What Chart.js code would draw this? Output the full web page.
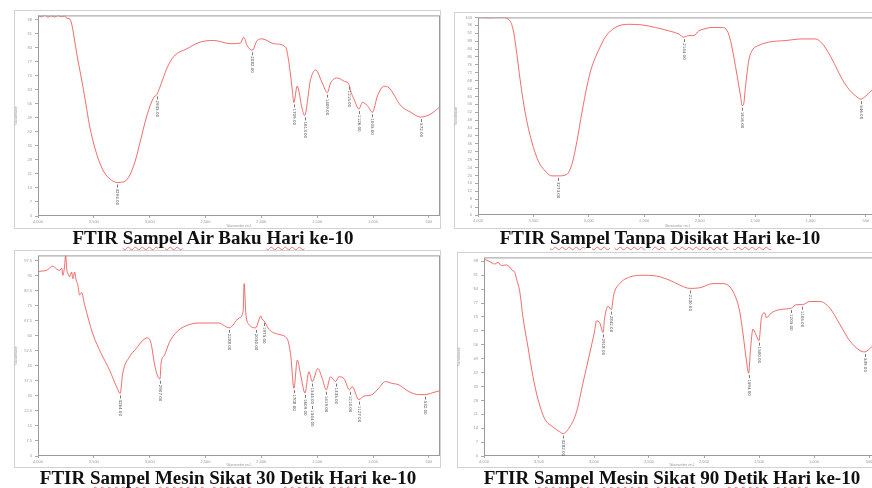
<!DOCTYPE html>
<html>
<head>
<meta charset="utf-8">
<script src="https://cdn.jsdelivr.net/npm/chart.js@4.4.1/dist/chart.umd.min.js"></script>
<style>
  html, body { margin: 0; padding: 0; background: #fff; }
  body { width: 872px; height: 488px; position: relative; overflow: hidden; }
  .box { position: absolute; }
  .title {
    position: absolute; font-family: "Liberation Serif", "Times New Roman", serif;
    font-weight: bold; font-size: 19px; line-height: 22px; color: #111; white-space: nowrap;
    transform: translateX(-50%);
  }
  .u { text-decoration: underline wavy rgba(230, 70, 70, 0.7); text-decoration-thickness: 1px; text-underline-offset: 2px; }
</style>
</head>
<body>
<div class="box" id="b1" style="left:14px;top:10px;width:427px;height:219px"><canvas id="c1"></canvas></div>
<div class="box" id="b2" style="left:454px;top:12px;width:424px;height:217px"><canvas id="c2"></canvas></div>
<div class="box" id="b3" style="left:14px;top:250px;width:427px;height:218px"><canvas id="c3"></canvas></div>
<div class="box" id="b4" style="left:457px;top:252px;width:424px;height:216px"><canvas id="c4"></canvas></div>

<div class="title" style="left:213px;top:227px">FTIR <span class="u">Sampel</span> Air Baku <span class="u">Hari</span> ke-10</div>
<div class="title" style="left:660px;top:227px">FTIR <span class="u">Sampel</span> <span class="u">Tanpa</span> <span class="u">Disikat</span> <span class="u">Hari</span> ke-10</div>
<div class="title" style="left:228px;top:467px">FTIR <span class="u">Sampel</span> <span class="u">Mesin</span> <span class="u">Sikat</span> 30 <span class="u">Detik</span> <span class="u">Hari</span> ke-10</div>
<div class="title" style="left:672px;top:467px">FTIR <span class="u">Sampel</span> <span class="u">Mesin</span> <span class="u">Sikat</span> 90 <span class="u">Detik</span> <span class="u">Hari</span> ke-10</div>

<script>
// x tick labels (wavenumber, cm-1)
const xTicks = [4000, 3500, 3000, 2500, 2000, 1500, 1000, 500];

// Air Baku
const wn1 = [4000, 3970, 3940, 3910, 3880, 3850, 3820, 3790, 3760, 3743, 3720, 3698, 3653, 3593, 3533, 3473, 3414, 3354, 3294, 3234, 3190, 3130, 3085, 3025, 2965, 2935, 2905, 2845, 2786, 2666, 2546, 2427, 2277, 2187, 2158, 2127, 2082, 2037, 1993, 1888, 1783, 1754, 1723, 1709, 1679, 1634, 1613, 1559, 1514, 1454, 1409, 1380, 1320, 1260, 1215, 1200, 1170, 1126, 1095, 1050, 1005, 960, 901, 856, 751, 662, 572, 482, 400];
const t1 = [100, 99.3, 100, 99.1, 99.8, 99.2, 99.9, 99.3, 99.7, 98.6, 98.4, 95.6, 81, 63, 43.6, 30.6, 22.4, 18.4, 16.7, 17, 19.2, 27.3, 37, 50, 59, 60.6, 64.7, 73.7, 79.4, 83.4, 86.7, 87.5, 85.9, 86.2, 89.1, 85, 82.6, 87.5, 88.3, 85.9, 84.2, 76.9, 63, 56.6, 64.7, 53.3, 50.1, 68, 72.8, 66.3, 61.5, 66.3, 68.8, 67.2, 65.5, 62.3, 58.2, 53.3, 56.6, 55, 51.7, 59.9, 64.7, 63.9, 55, 51.7, 49.3, 50.9, 54.5];
const peaks1 = [3294, 2935, 2082, 1709, 1613, 1409, 1215, 1126, 1005, 572];

// Tanpa Disikat
const wn2 = [4000, 3900, 3786, 3711, 3681, 3650, 3620, 3575, 3515, 3455, 3394, 3334, 3274, 3198, 3153, 3108, 3062, 3017, 2972, 2912, 2852, 2761, 2641, 2520, 2400, 2279, 2189, 2144, 2098, 2053, 2008, 1963, 1887, 1797, 1751, 1722, 1692, 1661, 1631, 1616, 1601, 1586, 1556, 1526, 1466, 1375, 1224, 1073, 953, 892, 833, 772, 712, 652, 591, 546, 501, 456, 400];
const t2 = [100, 99.8, 100, 98.2, 93.2, 81.7, 68.5, 52, 37.1, 27.2, 22.3, 19.8, 19.8, 20.6, 25.6, 37.1, 52, 65.2, 75.1, 83.3, 90, 94.9, 96.5, 96.2, 94.9, 93.2, 91.6, 90, 90.8, 90.8, 93.2, 94.1, 94.9, 94.9, 93.2, 88.3, 80, 70.1, 60.2, 55.3, 56.9, 65.2, 78.4, 83.3, 85.8, 87.5, 88.3, 89.1, 89.1, 86.6, 81.7, 75.1, 68.5, 63.5, 60.2, 58.6, 60.2, 62.7, 65];
const peaks2 = [3274, 2144, 1616, 546];

// Mesin Sikat 30 Detik
const wn3 = [4000, 3967, 3925, 3896, 3869, 3851, 3833, 3806, 3788, 3777, 3762, 3753, 3741, 3730, 3717, 3699, 3687, 3672, 3659, 3643, 3628, 3610, 3583, 3509, 3434, 3360, 3286, 3264, 3241, 3181, 3121, 3062, 3018, 2987, 2958, 2928, 2907, 2898, 2868, 2824, 2764, 2675, 2556, 2437, 2377, 2348, 2288, 2199, 2163, 2154, 2139, 2110, 2050, 2005, 1993, 1975, 1931, 1842, 1767, 1737, 1708, 1678, 1648, 1609, 1574, 1544, 1494, 1455, 1419, 1380, 1335, 1306, 1261, 1210, 1187, 1127, 1083, 1008, 949, 889, 830, 770, 681, 592, 532, 473, 400];
const t3 = [91.7, 92.2, 92.5, 93.7, 94.6, 94.1, 93.2, 92.5, 93.7, 90.1, 94.6, 100, 92.5, 90.7, 89.3, 91.7, 88.4, 91.7, 87.8, 85.2, 80.3, 81.5, 75.5, 60.8, 51.1, 42.9, 33.2, 31.2, 41.3, 49.4, 53.5, 57.6, 58.9, 56, 46.2, 39.7, 38.5, 46.2, 50.2, 56.6, 61.5, 64.9, 66.3, 66.3, 66.3, 65.5, 63.9, 68.8, 72.2, 85.9, 71.2, 65.5, 63.9, 69.8, 68.3, 67.3, 63.1, 60.6, 58.2, 50.2, 33.8, 47.8, 40.5, 31.4, 42, 37.1, 43.6, 38.7, 33, 39.5, 37.1, 39.5, 38.7, 33, 34.6, 28.1, 29.8, 30.6, 33.8, 37.1, 36.2, 35.5, 32.2, 30.6, 30.6, 31.4, 32.6];
const peaks3 = [3264, 2907, 2288, 2050, 1975, 1708, 1609, 1544, 1544, 1419, 1335, 1210, 1127, 532];

// Mesin Sikat 90 Detik
const wn4 = [4000, 3948, 3903, 3873, 3842, 3796, 3766, 3742, 3721, 3705, 3675, 3645, 3600, 3555, 3509, 3448, 3373, 3312, 3282, 3221, 3160, 3100, 3039, 2994, 2978, 2948, 2918, 2903, 2873, 2842, 2821, 2766, 2675, 2555, 2433, 2312, 2221, 2130, 2039, 1918, 1827, 1766, 1721, 1676, 1645, 1615, 1594, 1578, 1555, 1530, 1500, 1478, 1448, 1433, 1387, 1312, 1205, 1160, 1105, 1039, 948, 857, 766, 676, 585, 539, 478, 400];
const t4 = [99.2, 97.9, 96.7, 97.5, 95.9, 96.2, 95.1, 93.4, 92.6, 89.3, 82.8, 69.6, 54.8, 40, 28.6, 18.7, 14.6, 12.2, 11.3, 14.6, 22, 36.8, 51.6, 63.1, 68, 67.1, 62.2, 69.6, 75.4, 73.7, 81.1, 86.8, 90.1, 91, 90.6, 88.5, 86.1, 84.4, 84.7, 86.8, 86.8, 85.2, 81.1, 72.9, 61.4, 48.3, 41.7, 53.2, 63.9, 61.4, 58.1, 69.6, 72.1, 69.6, 72.1, 73.7, 74.5, 76.2, 76.2, 77.8, 77.8, 74.5, 66.4, 58.1, 53.2, 52.4, 54.8, 58];
const peaks4 = [3282, 2918, 2842, 2130, 1594, 1500, 1205, 1105, 539];

// frame round the whole panel + box round the plot + peak labels
const framePlugin = {
  id: 'frame',
  beforeDraw(chart) {
    const ctx = chart.ctx;
    ctx.save();
    ctx.strokeStyle = '#d2d2d2';
    ctx.lineWidth = 1;
    ctx.strokeRect(0.5, 0.5, chart.width - 1, chart.height - 1);
    ctx.restore();
  },
  afterDatasetsDraw(chart, args, opts) {
    const ctx = chart.ctx;
    const a = chart.chartArea;
    const xs = chart.scales.x, ys = chart.scales.y;
    ctx.save();
    ctx.strokeStyle = '#9a9a9a';
    ctx.strokeRect(a.left + 0.5, a.top + 0.5, a.right - a.left - 1, a.bottom - a.top - 1);

    const pts = chart.data.datasets[0].data;
    let lastX = -99, lastBottom = 0;
    ctx.fillStyle = '#555';
    ctx.strokeStyle = '#777';
    ctx.font = '4px "DejaVu Sans"';
    ctx.textBaseline = 'middle';
    opts.peaks.forEach(w => {
      let best = pts[0];
      pts.forEach(p => { if (Math.abs(p.x - w) < Math.abs(best.x - w)) best = p; });
      const px = Math.round(xs.getPixelForValue(w)) + 0.5;
      let py = ys.getPixelForValue(best.y) + 2;
      if (Math.abs(px - lastX) < 4) py = lastBottom + 2;
      ctx.beginPath();
      ctx.moveTo(px, py);
      ctx.lineTo(px, py + 3);
      ctx.stroke();
      const label = w.toFixed(2);
      const len = ctx.measureText(label).width;
      ctx.save();
      ctx.translate(px, py + 4);
      ctx.rotate(Math.PI / 2);
      ctx.textAlign = 'left';
      ctx.fillText(label, 0, 0);
      ctx.restore();
      lastX = px;
      lastBottom = py + 4 + len;
    });
    ctx.restore();
  }
};

function makeChart(id, wn, t, peaks, yStep, yWidth, xHeight) {
  const box = document.getElementById('b' + id);
  const canvas = document.getElementById('c' + id);
  canvas.width = box.clientWidth;
  canvas.height = box.clientHeight;
  new Chart(canvas.getContext('2d'), {
    type: 'scatter',
    data: {
      datasets: [{
        data: wn.map((w, i) => ({ x: w, y: t[i] })),
        showLine: true,
        borderColor: 'rgba(235, 60, 60, 0.75)',
        borderWidth: 1,
        pointRadius: 0,
        cubicInterpolationMode: 'monotone',
      }],
    },
    options: {
      responsive: false,
      animation: false,
      events: [],
      layout: { padding: { top: 1, right: 1, bottom: 1, left: 0 } },
      plugins: { legend: { display: false }, tooltip: { enabled: false }, frame: { peaks: peaks } },
      scales: {
        x: {
          type: 'linear', reverse: true, min: 400, max: 4000,
          afterBuildTicks(scale) { scale.ticks = xTicks.map(v => ({ value: v })); },
          afterFit(scale) { scale.height = xHeight; },
          grid: { drawOnChartArea: false, tickLength: 2, color: '#aaa' },
          border: { display: false },
          ticks: { font: { size: 4 }, color: '#999', padding: 1, maxRotation: 0, autoSkip: false },
          title: { display: true, text: 'Wavenumber cm-1', font: { size: 3 }, color: '#999', padding: 0 },
        },
        y: {
          min: 0, max: 100,
          ticks: { stepSize: yStep, includeBounds: false, font: { size: 4 }, color: '#999', padding: 3 },
          afterFit(scale) { scale.width = yWidth; },
          grid: { drawOnChartArea: false, tickLength: 3, color: '#aaa' },
          border: { display: false },
          title: { display: true, text: 'Transmittance', font: { size: 3 }, color: '#999', padding: 0 },
        },
      },
    },
    plugins: [framePlugin],
  });
}

makeChart(1, wn1, t1, peaks1, 7, 24, 12);
makeChart(2, wn2, t2, peaks2, 4, 24, 13);
makeChart(3, wn3, t3, peaks3, 7.5, 24, 11);
makeChart(4, wn4, t4, peaks4, 3.5, 27, 11);
</script>
</body>
</html>
